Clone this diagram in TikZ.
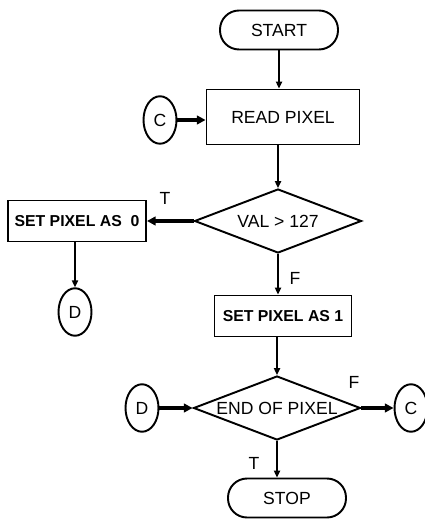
\documentclass[tikz,border=0pt]{standalone}
\usepackage{fontspec}
\setmainfont{Liberation Sans}
\usetikzlibrary{shapes.geometric, arrows.meta, positioning, calc}

\begin{document}
\begin{tikzpicture}[
    x=0.02cm, y=-0.02cm,
    font=\fontsize{10}{12}\selectfont,
    term/.style={rectangle, draw, line width=1.1pt, rounded corners=0.38cm, minimum width=2.36cm, minimum height=0.78cm},
    proc/.style={rectangle, draw, line width=1.1pt, minimum height=0.82cm},
    dec/.style={diamond, draw, line width=1.1pt, inner sep=0pt, minimum width=3.34cm, minimum height=1.28cm},
    conn/.style={ellipse, draw, line width=1.1pt, inner sep=0pt, minimum width=0.66cm, minimum height=0.95cm},
    bold/.style={font=\fontsize{9}{11}\selectfont\bfseries},
    arrow/.style={-{Triangle[length=4pt, width=3.5pt]}, line width=1.1pt},
    thickarrow/.style={-{Triangle[length=5pt, width=5pt]}, line width=2.4pt}
]
\useasboundingbox (0,0) rectangle (424,519);

\node[term] (start) at (279,30) {START};
\node[proc, minimum width=3.06cm, minimum height=1.1cm] (read) at (283,117) {READ PIXEL};
\node[conn] (c1) at (160,120) {C};
\node[dec, label=center:{VAL > 127}] (val) at (278,221) {};
\node[proc, bold, minimum width=2.76cm] (set0) at (77,221) {SET PIXEL AS\ \ 0};
\node[conn] (d1) at (75,312) {D};
\node[proc, bold, minimum width=2.74cm] (set1) at (283,316) {SET PIXEL AS 1};
\node[dec, label=center:{END OF PIXEL}] (end) at (277,408) {};
\node[conn] (d2) at (142,408) {D};
\node[conn] (c2) at (411,408) {C};
\node[term] (stop) at (287,498) {STOP};

% branch labels
\node (t1) at (165,198) {T};
\node (f1) at (295,278) {F};
\node (f2) at (354,382) {F};
\node (t2) at (254,463) {T};

\draw[arrow] (start) -- (start |- read.north);
\draw[thickarrow] (c1) -- (c1 -| read.west);
\draw[arrow] (val |- read.south) -- (val);
\draw[thickarrow] (val) -- (set0);
\draw[arrow] (set0.south -| d1) -- (d1);
\draw[arrow] (val) -- (val |- set1.north);
\draw[arrow] (end |- set1.south) -- (end);
\draw[thickarrow] (d2) -- (end);
\draw[thickarrow] (end) -- (c2);
\draw[arrow] (end) -- (end |- stop.north);
\end{tikzpicture}
\end{document}
